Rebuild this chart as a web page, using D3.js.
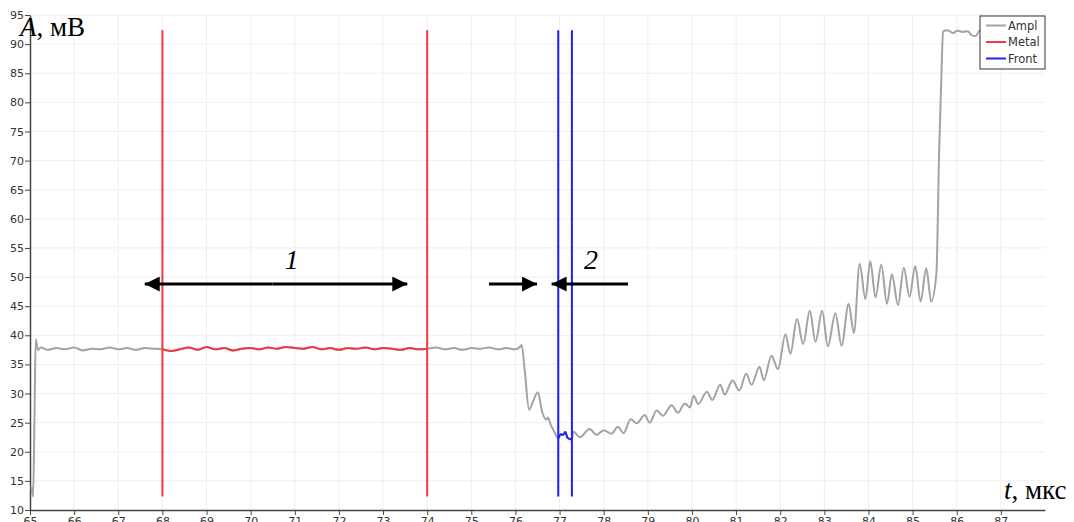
<!DOCTYPE html>
<html><head><meta charset="utf-8">
<script src="https://cdn.jsdelivr.net/npm/d3@7"></script>
<style>body{margin:0;background:#fff}svg{display:block}</style>
</head><body>
<svg id="chart" width="1074" height="522"></svg>
<script>
// Signal samples: time (µs) and amplitude (mV)
const timeUs = [
  65.03, 65.07, 65.10, 65.13, 65.18, 65.25, 65.4, 65.6, 65.8, 66.0, 66.2, 66.4, 66.6, 66.8, 67.0,
  67.2, 67.4, 67.6, 67.8, 68.0, 68.2, 68.4, 68.6, 68.8, 69.0, 69.2, 69.4, 69.6, 69.8, 70.0,
  70.2, 70.4, 70.6, 70.8, 71.0, 71.2, 71.4, 71.6, 71.8, 72.0, 72.2, 72.4, 72.6, 72.8, 73.0,
  73.2, 73.4, 73.6, 73.8, 74.0, 74.2, 74.4, 74.6, 74.8, 75.0, 75.2, 75.4, 75.6, 75.8, 76.0,
  76.1, 76.14, 76.21, 76.31, 76.39, 76.51, 76.60, 76.70, 76.74, 76.79, 76.87, 76.97, 77.03, 77.08, 77.13,
  77.18, 77.28, 77.31, 77.46, 77.68, 77.84, 78.00, 78.18, 78.32, 78.45, 78.61, 78.75, 78.93, 79.04, 79.20,
  79.34, 79.54, 79.68, 79.84, 79.95, 80.04, 80.14, 80.34, 80.46, 80.64, 80.74, 80.92, 81.07, 81.23, 81.35,
  81.53, 81.63, 81.80, 81.95, 82.12, 82.23, 82.38, 82.52, 82.67, 82.80, 82.95, 83.08, 83.25, 83.39, 83.55,
  83.67, 83.80, 83.93, 84.04, 84.16, 84.29, 84.42, 84.53, 84.67, 84.80, 84.93, 85.06, 85.18, 85.31, 85.42,
  85.54, 85.60, 85.65, 85.69, 85.79, 85.91, 86.02, 86.13, 86.25, 86.34, 86.43, 86.52, 86.7, 86.9, 87.1,
  87.3, 87.5, 87.7, 87.95
];
const amplMv = [
  14.0, 12.3, 25.0, 39.3, 37.5, 37.9, 37.5, 37.8, 37.6, 37.9, 37.4, 37.7, 37.6, 37.9, 37.6,
  37.8, 37.5, 37.8, 37.7, 37.6, 37.3, 37.6, 37.9, 37.5, 38.0, 37.6, 37.8, 37.4, 37.7, 37.8,
  37.6, 37.9, 37.7, 38.0, 37.8, 37.7, 38.0, 37.6, 37.8, 37.5, 37.8, 37.7, 37.9, 37.6, 37.8,
  37.7, 37.5, 37.8, 37.6, 37.7, 37.9, 37.6, 37.8, 37.5, 37.8, 37.7, 37.9, 37.6, 37.8, 37.6,
  38.0, 38.35, 34.0, 27.2, 28.5, 30.2, 27.0, 25.5, 25.9, 24.8, 23.6, 22.3, 23.0, 22.9, 23.4,
  22.4, 22.1, 23.5, 22.5, 23.9, 22.9, 23.7, 23.1, 24.3, 23.2, 25.6, 24.9, 26.3, 25.0, 27.1,
  26.2, 28.0, 26.7, 28.3, 27.6, 29.6, 28.2, 30.3, 28.9, 31.5, 29.8, 32.3, 30.5, 33.4, 31.5,
  34.6, 32.3, 36.5, 34.2, 40.2, 36.8, 42.8, 38.5, 44.2, 38.9, 44.2, 38.1, 43.8, 38.2, 45.4,
  40.4, 52.3, 46.2, 52.7, 46.5, 52.1, 45.4, 50.5, 45.2, 51.6, 46.6, 51.9, 45.8, 51.5, 45.8,
  50.7, 71.3, 84.0, 92.2, 92.4, 91.9, 92.3, 92.1, 92.2, 91.5, 91.4, 92.3, 91.9, 92.2, 91.8,
  92.1, 91.9, 92.2, 92.0
];

// Highlighted windows (µs)
const metalWindow = [68.0, 74.0];
const frontWindow = [76.97, 77.28];

// Axis ticks
const xTicks = d3.range(65, 88, 1);
const yTicks = d3.range(10, 96, 5);

// Legend entries
const legendNames = ["Ampl", "Metal", "Front"];
const legendColors = ["#a3a3a3", "#ee3b42", "#1e1eff"];

// Annotation arrows [from t, to t] at amplitude level, and labels
const arrowLevel = 48.8;
const arrows = [[70.5, 67.60], [70.5, 73.55], [75.40, 76.49], [78.55, 76.82]];
const labelTexts = ["1", "2"];
const labelT = [70.93, 77.71];
const labelLevel = 51.3;

const svg = d3.select("#chart");
const x = d3.scaleLinear().domain([65, 88]).range([30, 1045]);
const y = d3.scaleLinear().domain([10, 95]).range([510, 15]);

// grid
const grid = svg.append("g");
grid.selectAll("line.v").data(xTicks.slice(1)).join("line")
  .attr("x1", d => x(d)).attr("x2", d => x(d)).attr("y1", y(95)).attr("y2", y(10))
  .attr("stroke", "#eeeeee").attr("stroke-width", 1);
grid.selectAll("line.h").data(yTicks.slice(1)).join("line")
  .attr("x1", x(65)).attr("x2", x(88)).attr("y1", d => y(d)).attr("y2", d => y(d))
  .attr("stroke", "#eeeeee").attr("stroke-width", 1);

// axes
const fontAxis = "'DejaVu Sans', Verdana, sans-serif";
const gy = svg.append("g").attr("transform", `translate(${x(65)},0)`)
  .call(d3.axisLeft(y).tickValues(yTicks).tickSize(5).tickPadding(1).tickSizeOuter(0));
const gx = svg.append("g").attr("transform", `translate(0,${y(10)})`)
  .call(d3.axisBottom(x).tickValues(xTicks).tickSize(5).tickPadding(2).tickSizeOuter(0));
[gx, gy].forEach(g => {
  g.select(".domain").attr("stroke", "#444").attr("stroke-width", 1.5);
  g.selectAll(".tick line").attr("stroke", "#444");
  g.selectAll(".tick text").attr("fill", "#333").style("font-family", fontAxis).style("font-size", "11px");
});

const pts = timeUs.map((t, i) => [t, amplMv[i]]);
const line = d3.line().x(d => x(d[0])).y(d => y(d[1])).curve(d3.curveMonotoneX);

// full signal
svg.append("path").datum(pts).attr("d", line)
  .attr("fill", "none").attr("stroke", legendColors[0]).attr("stroke-width", 2);

// windows over the signal
const inside = w => pts.filter(p => p[0] >= w[0] - 1e-9 && p[0] <= w[1] + 1e-9);
svg.append("path").datum(inside(metalWindow)).attr("d", line)
  .attr("fill", "none").attr("stroke", legendColors[1]).attr("stroke-width", 2);
svg.append("path").datum(inside(frontWindow)).attr("d", line)
  .attr("fill", "none").attr("stroke", legendColors[2]).attr("stroke-width", 2);

// window boundaries spanning the signal range
const [aMin, aMax] = d3.extent(amplMv);
const bounds = metalWindow.map(t => ({t, c: legendColors[1]}))
  .concat(frontWindow.map(t => ({t, c: legendColors[2]})));
svg.selectAll("line.bound").data(bounds).join("line")
  .attr("x1", d => x(d.t)).attr("x2", d => x(d.t)).attr("y1", y(aMin)).attr("y2", y(aMax))
  .attr("stroke", d => d.c).attr("stroke-width", 2);

// arrows
const defs = svg.append("defs");
defs.append("marker").attr("id", "head").attr("viewBox", "0 0 10 10")
  .attr("refX", 10).attr("refY", 5).attr("markerWidth", 16).attr("markerHeight", 15)
  .attr("markerUnits", "userSpaceOnUse").attr("orient", "auto")
  .append("path").attr("d", "M0,0L10,5L0,10Z").attr("fill", "#000");
svg.selectAll("line.arrow").data(arrows).join("line")
  .attr("x1", d => x(d[0])).attr("x2", d => x(d[1]))
  .attr("y1", y(arrowLevel)).attr("y2", y(arrowLevel))
  .attr("stroke", "#000").attr("stroke-width", 3).attr("marker-end", "url(#head)");

const serif = "'Liberation Serif', 'Times New Roman', serif";
svg.selectAll("text.lab").data(labelTexts).join("text")
  .attr("x", (d, i) => x(labelT[i])).attr("y", y(labelLevel))
  .attr("text-anchor", "middle").style("font-family", serif).style("font-style", "italic")
  .style("font-size", "28px").text(d => d);

// axis titles
const ty = svg.append("text").attr("x", 20).attr("y", 36)
  .style("font-family", serif).style("font-size", "27px").attr("fill", "#000");
ty.append("tspan").style("font-style", "italic").text("A");
ty.append("tspan").text(", мВ");
const tx = svg.append("text").attr("x", 1004).attr("y", 499)
  .style("font-family", serif).style("font-size", "27px").attr("fill", "#000");
tx.append("tspan").style("font-style", "italic").text("t");
tx.append("tspan").text(", мкс");

// legend
const lg = svg.append("g").attr("transform", "translate(980,16)");
lg.append("rect").attr("x", 0).attr("y", 0).attr("width", 65).attr("height", 53)
  .attr("fill", "#fff").attr("stroke", "#333").attr("stroke-width", 1);
legendNames.forEach((n, i) => {
  const yy = 9.5 + i * 16.5;
  lg.append("line").attr("x1", 6).attr("x2", 26).attr("y1", yy).attr("y2", yy)
    .attr("stroke", legendColors[i]).attr("stroke-width", 2);
  lg.append("text").attr("x", 28).attr("y", yy).attr("dy", "0.35em")
    .style("font-family", fontAxis).style("font-size", "11.5px").attr("fill", "#333").text(n);
});
</script>
</body></html>
